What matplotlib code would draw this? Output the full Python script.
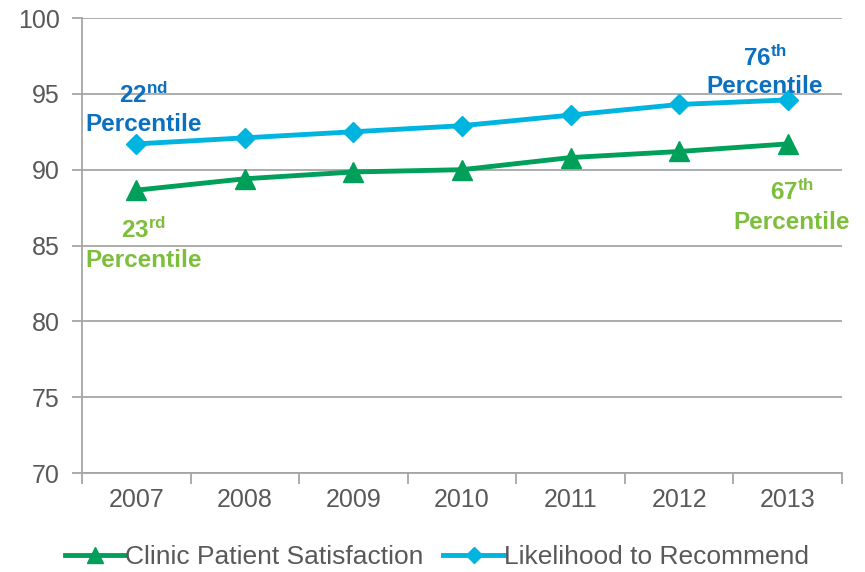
import numpy as np
import matplotlib.pyplot as plt

plt.rcParams["font.family"] = ["Liberation Sans", "DejaVu Sans"]
plt.rcParams["mathtext.fontset"] = "custom"
plt.rcParams["mathtext.rm"] = "Liberation Sans"
plt.rcParams["mathtext.bf"] = "Liberation Sans:bold"

years = ["2007", "2008", "2009", "2010", "2011", "2012", "2013"]
satisfaction = [88.65, 89.4, 89.85, 90.0, 90.8, 91.2, 91.7]
recommend = [91.7, 92.1, 92.5, 92.9, 93.6, 94.3, 94.6]

green = "#00A05A"
blue = "#00B4E0"
txt_blue = "#0B70C0"
txt_green = "#7DBE3C"
grid_c = "#A6A6A6"
label_c = "#595959"

fig = plt.figure(figsize=(8.65, 5.72), dpi=100)
ax = fig.add_axes([0.0948, 0.173, 0.8786, 0.7955])

x = np.arange(len(years))
ax.plot(x, satisfaction, color=green, lw=3.5, marker="^", ms=14,
        label="Clinic Patient Satisfaction")
ax.plot(x, recommend, color=blue, lw=3.5, marker="D", ms=10.5,
        label="Likelihood to Recommend")

ax.set_xlim(-0.5, 6.5)
ax.set_ylim(70, 100)
ax.set_yticks(np.arange(70, 101, 5))
ax.set_xticks(x)
ax.set_xticklabels(years)
ax.set_xticks(np.arange(-0.5, 6.6, 1), minor=True)
ax.tick_params(axis="x", which="major", length=0, pad=11, labelsize=18, labelcolor=label_c)
ax.tick_params(axis="x", which="minor", length=8, color=grid_c, width=1.3)
ax.tick_params(axis="y", length=7, color=grid_c, width=1.3, labelsize=18, labelcolor=label_c, pad=9)
ax.yaxis.grid(True, color=grid_c, lw=1.3)
ax.set_axisbelow(True)
for s in ["top", "right"]:
    ax.spines[s].set_visible(False)
for s in ["left", "bottom"]:
    ax.spines[s].set_color(grid_c)
    ax.spines[s].set_linewidth(1.3)

fs = 17.5
ax.text(0.07, 94.92, r"$\mathbf{22^{nd}}$", color=txt_blue, fontsize=fs, ha="center", va="center")
ax.text(0.07, 92.95, "Percentile", color=txt_blue, fontsize=fs, weight="bold", ha="center", va="center")
ax.text(0.07, 86.03, r"$\mathbf{23^{rd}}$", color=txt_green, fontsize=fs, ha="center", va="center")
ax.text(0.07, 84.0, "Percentile", color=txt_green, fontsize=fs, weight="bold", ha="center", va="center")
ax.text(5.79, 97.36, r"$\mathbf{76^{th}}$", color=txt_blue, fontsize=fs, ha="center", va="center")
ax.text(5.79, 95.5, "Percentile", color=txt_blue, fontsize=fs, weight="bold", ha="center", va="center")
ax.text(6.04, 88.53, r"$\mathbf{67^{th}}$", color=txt_green, fontsize=fs, ha="center", va="center")
ax.text(6.04, 86.55, "Percentile", color=txt_green, fontsize=fs, weight="bold", ha="center", va="center")

leg = fig.legend(loc="center", bbox_to_anchor=(0.505, 0.026), ncol=2, frameon=False,
                 fontsize=19, handlelength=2.3, handletextpad=0.0, columnspacing=0.75,
                 markerscale=0.8)
for t in leg.get_texts():
    t.set_color(label_c)

plt.savefig("out.png", dpi=100)
